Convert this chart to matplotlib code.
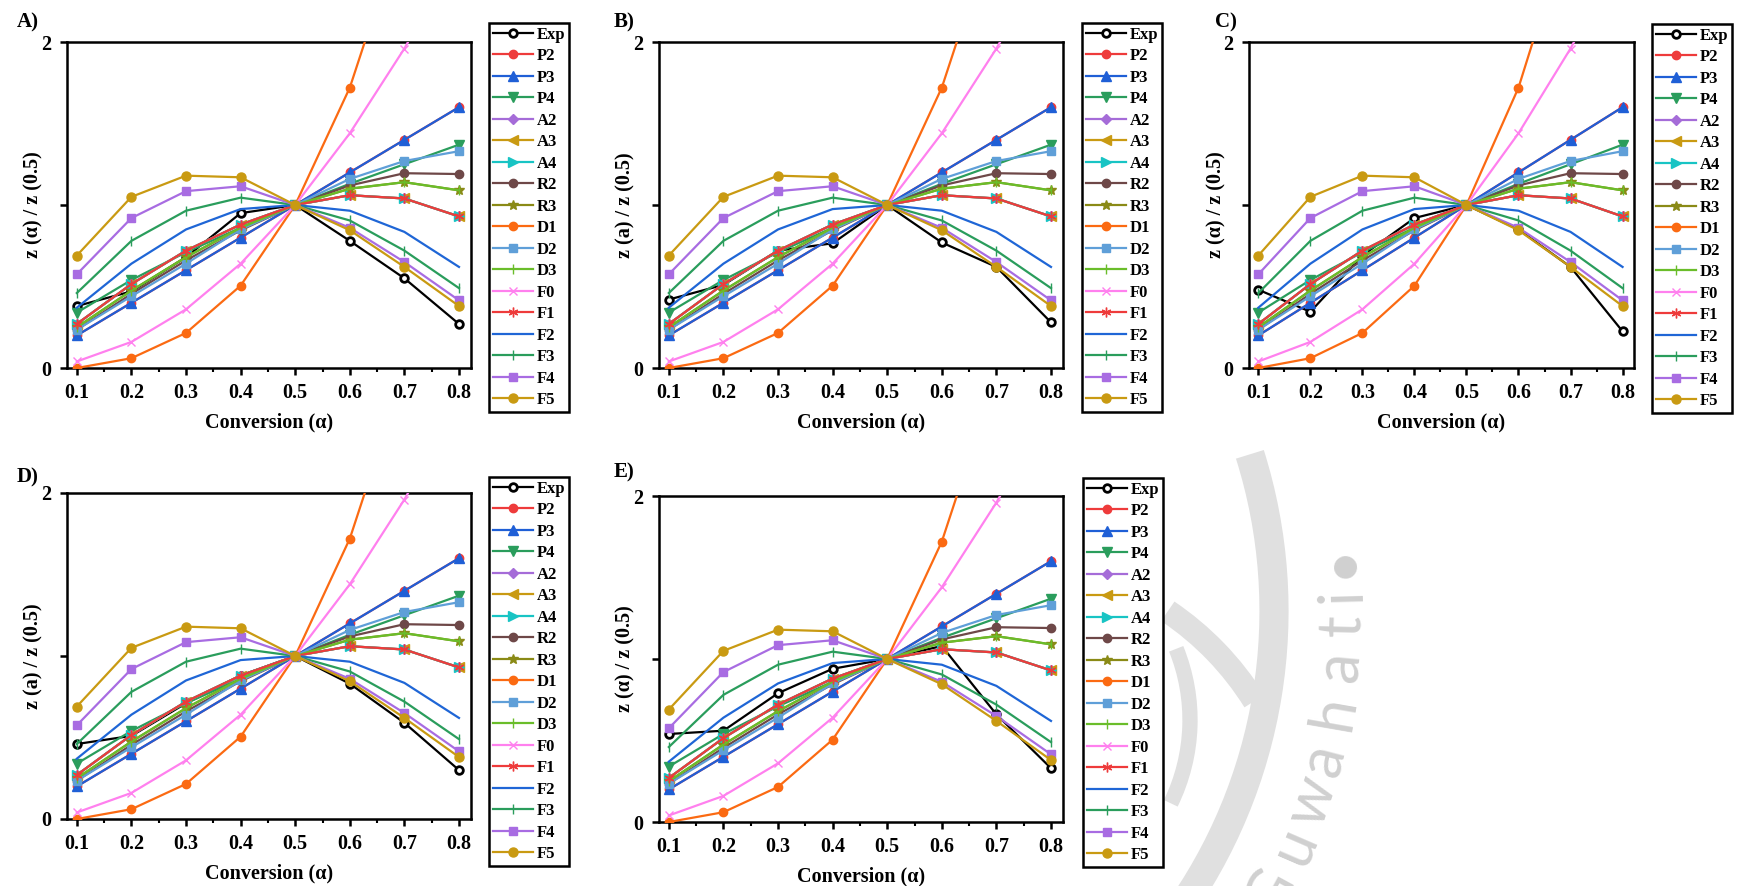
import matplotlib
matplotlib.use('Agg')
import matplotlib.pyplot as plt
from matplotlib.patches import Arc
from matplotlib.ticker import FixedLocator, FixedFormatter
import numpy as np

plt.rcParams['font.family'] = ['Liberation Serif', 'DejaVu Serif']
plt.rcParams['font.weight'] = 'bold'

# ---------------- data ----------------
alpha = [0.1, 0.2, 0.3, 0.4, 0.5, 0.6, 0.7, 0.8]

P2 = [0.20, 0.40, 0.60, 0.80, 1.0, 1.20, 1.40, 1.60]
P3 = [0.20, 0.40, 0.60, 0.80, 1.0, 1.20, 1.40, 1.60]
P4 = [0.34, 0.54, 0.71, 0.86, 1.0, 1.13, 1.25, 1.37]
A2 = [0.27, 0.515, 0.72, 0.88, 1.0, 1.06, 1.04, 0.93]
A3 = [0.27, 0.515, 0.72, 0.88, 1.0, 1.06, 1.04, 0.93]
A4 = [0.27, 0.515, 0.72, 0.88, 1.0, 1.06, 1.04, 0.93]
R2 = [0.235, 0.455, 0.66, 0.845, 1.0, 1.12, 1.195, 1.19]
R3 = [0.25, 0.475, 0.68, 0.86, 1.0, 1.10, 1.14, 1.09]
D1 = [0.0, 0.06, 0.215, 0.505, 1.0, 1.72, 2.74, 4.10]
D2 = [0.235, 0.44, 0.64, 0.85, 1.0, 1.16, 1.27, 1.33]
D3 = [0.25, 0.475, 0.68, 0.86, 1.0, 1.10, 1.14, 1.09]
F0 = [0.04, 0.16, 0.36, 0.64, 1.0, 1.44, 1.96, 2.56]
F1 = [0.27, 0.515, 0.72, 0.88, 1.0, 1.06, 1.04, 0.93]
F2 = [0.37, 0.64, 0.85, 0.975, 1.0, 0.965, 0.835, 0.62]
F3 = [0.46, 0.78, 0.965, 1.045, 1.0, 0.905, 0.72, 0.49]
F4 = [0.575, 0.92, 1.085, 1.115, 1.0, 0.86, 0.65, 0.415]
F5 = [0.69, 1.05, 1.18, 1.17, 1.0, 0.845, 0.62, 0.38]

exp_A = [0.38, 0.47, 0.68, 0.95, 1.0, 0.78, 0.55, 0.27]
exp_B = [0.42, 0.51, 0.72, 0.765, 1.0, 0.77, 0.62, 0.28]
exp_C = [0.48, 0.345, 0.69, 0.92, 1.0, 0.85, 0.62, 0.225]
exp_D = [0.46, 0.51, 0.71, 0.88, 1.0, 0.83, 0.59, 0.30]
exp_E = [0.54, 0.56, 0.79, 0.94, 1.0, 1.08, 0.66, 0.33]

model_names = ['P2', 'P3', 'P4', 'A2', 'A3', 'A4', 'R2', 'R3', 'D1', 'D2', 'D3',
               'F0', 'F1', 'F2', 'F3', 'F4', 'F5']
model_values = [P2, P3, P4, A2, A3, A4, R2, R3, D1, D2, D3, F0, F1, F2, F3, F4, F5]

panel_letters = ['A)', 'B)', 'C)', 'D)', 'E)']
panel_exp = [exp_A, exp_B, exp_C, exp_D, exp_E]
panel_ylabels = ['z (\u03b1) / z (0.5)', 'z (a) / z (0.5)', 'z (\u03b1) / z (0.5)',
                 'z (a) / z (0.5)', 'z (\u03b1) / z (0.5)']
x_ticklabels = ['0.1', '0.2', '0.3', '0.4', '0.5', '0.6', '0.7', '0.8']
y_ticklabels = ['0', '', '2']
watermark_text = 'Guwahati\u2022'

# ---------------- styles ----------------
styles = {
    'P2': dict(color='#ee3b3b', marker='o', ms=6),
    'P3': dict(color='#1f5fd6', marker='^', ms=6.5),
    'P4': dict(color='#2a9d5c', marker='v', ms=6.5),
    'A2': dict(color='#a56cd8', marker='D', ms=5),
    'A3': dict(color='#c99a12', marker='<', ms=6.5),
    'A4': dict(color='#18c4c4', marker='>', ms=6.5),
    'R2': dict(color='#6e4848', marker='o', ms=6),
    'R3': dict(color='#8a8a16', marker='*', ms=7.5),
    'D1': dict(color='#fb6a12', marker='o', ms=6),
    'D2': dict(color='#5f9fd8', marker='s', ms=5.5),
    'D3': dict(color='#6abd2a', marker='|', ms=7),
    'F0': dict(color='#ff80ee', marker='x', ms=6),
    'F1': dict(color='#ee3b3b', marker=(6, 2, 0), ms=7),
    'F2': dict(color='#1f66d6', marker=None, ms=0),
    'F3': dict(color='#2a9d5c', marker='|', ms=7),
    'F4': dict(color='#a86ce2', marker='s', ms=5.5),
    'F5': dict(color='#c99a12', marker='o', ms=6.5),
}

W, H = 1749, 886
fig = plt.figure(figsize=(W / 100, H / 100), dpi=100)

# watermark (background), pixel coordinates, y downward
bg = fig.add_axes([0, 0, 1, 1], zorder=-10)
bg.set_xlim(0, W)
bg.set_ylim(H, 0)
bg.axis('off')
cx, cy = 753, 611
bg.add_patch(Arc((cx, cy), 2 * 521, 2 * 521, theta1=-17.5, theta2=36,
                 color='#e0e0e0', lw=21))
bg.add_patch(Arc((1000, 860), 2 * 300, 2 * 300, theta1=-56, theta2=-32,
                 color='#e0e0e0', lw=17))
bg.add_patch(Arc((1000, 720), 2 * 190, 2 * 190, theta1=-22, theta2=26,
                 color='#e0e0e0', lw=11))
letter_angles = [28.5, 23.4, 18.7, 14.6, 9.9, 5.4, 1.4, -1.5, -4.9]
R_txt = 590
for ch, ang in zip(watermark_text, letter_angles):
    a = np.deg2rad(ang)
    px = cx + R_txt * np.cos(a)
    py = cy + R_txt * np.sin(a)
    bg.text(px, py, ch, rotation=90 - ang, color='#d0d0d0', fontsize=44,
            fontweight='normal', family=['Lato', 'DejaVu Sans'],
            ha='center', va='center', rotation_mode='anchor')

# axes rectangles in pixels: (left, top, right, bottom)
ax_px = [(67, 42, 471, 368), (659, 42, 1063, 368), (1249, 42, 1634, 368),
         (67, 493, 471, 819), (659, 496, 1063, 822)]
leg_px = [(489, 23), (1082, 23), (1652, 24), (489, 477), (1083, 478)]
lab_px = [(17, 22), (614, 22), (1215, 22), (17, 477), (614, 472)]

for i in range(5):
    l, t, r, b = ax_px[i]
    ax = fig.add_axes([l / W, 1 - b / H, (r - l) / W, (b - t) / H])
    handles = []
    h, = ax.plot(alpha, panel_exp[i], color='black', marker='o', ms=5.5,
                 mfc='white', mec='black', mew=2, lw=1.6, label='Exp', zorder=3)
    handles.append(h)
    for name, vals in zip(model_names, model_values):
        st = styles[name]
        kw = dict(color=st['color'], lw=1.6, label=name, zorder=3)
        if st['marker'] is not None:
            kw.update(marker=st['marker'], ms=st['ms'], mec=st['color'], mfc=st['color'])
            if st['marker'] in ('|', 'x') or isinstance(st['marker'], tuple):
                kw['mew'] = 1.0
        h, = ax.plot(alpha, vals, **kw)
        handles.append(h)
    ax.set_xlim(0.082, 0.822)
    ax.set_ylim(0, 2)
    ax.xaxis.set_major_locator(FixedLocator(alpha))
    ax.xaxis.set_major_formatter(FixedFormatter(x_ticklabels))
    ax.xaxis.set_minor_locator(FixedLocator([0.15, 0.25, 0.35, 0.45, 0.55, 0.65, 0.75]))
    ax.yaxis.set_major_locator(FixedLocator([0, 1, 2]))
    ax.yaxis.set_major_formatter(FixedFormatter(y_ticklabels))
    ax.tick_params(axis='both', which='major', direction='out', length=5, width=1.8,
                   labelsize=14.5, pad=6)
    ax.tick_params(axis='x', which='minor', direction='out', length=3, width=1.5)
    for sp in ax.spines.values():
        sp.set_linewidth(1.8)
    for lbl in ax.get_xticklabels() + ax.get_yticklabels():
        lbl.set_fontweight('bold')
    ax.set_xlabel('Conversion (\u03b1)', fontsize=14.5, fontweight='bold')
    ax.set_ylabel(panel_ylabels[i], fontsize=14.5, fontweight='bold')
    ax.xaxis.set_label_coords(0.5, -0.135)
    ax.yaxis.set_label_coords(-0.058, 0.5)

    lx, ly = leg_px[i]
    leg = fig.legend(handles=handles, loc='upper left',
                     bbox_to_anchor=(lx / W, 1 - ly / H), bbox_transform=fig.transFigure,
                     borderaxespad=0, frameon=True, fancybox=False, framealpha=1,
                     edgecolor='black', labelspacing=0.33,
                     handlelength=2.4, handletextpad=0.25, borderpad=0.22,
                     numpoints=1, prop=dict(family='Liberation Serif', weight='bold', size=12))
    leg.get_frame().set_linewidth(1.8)

    tx, ty = lab_px[i]
    fig.text(tx / W, 1 - ty / H, panel_letters[i], fontsize=15, fontweight='bold',
             ha='left', va='center')

fig.savefig('out.png', dpi=100)
